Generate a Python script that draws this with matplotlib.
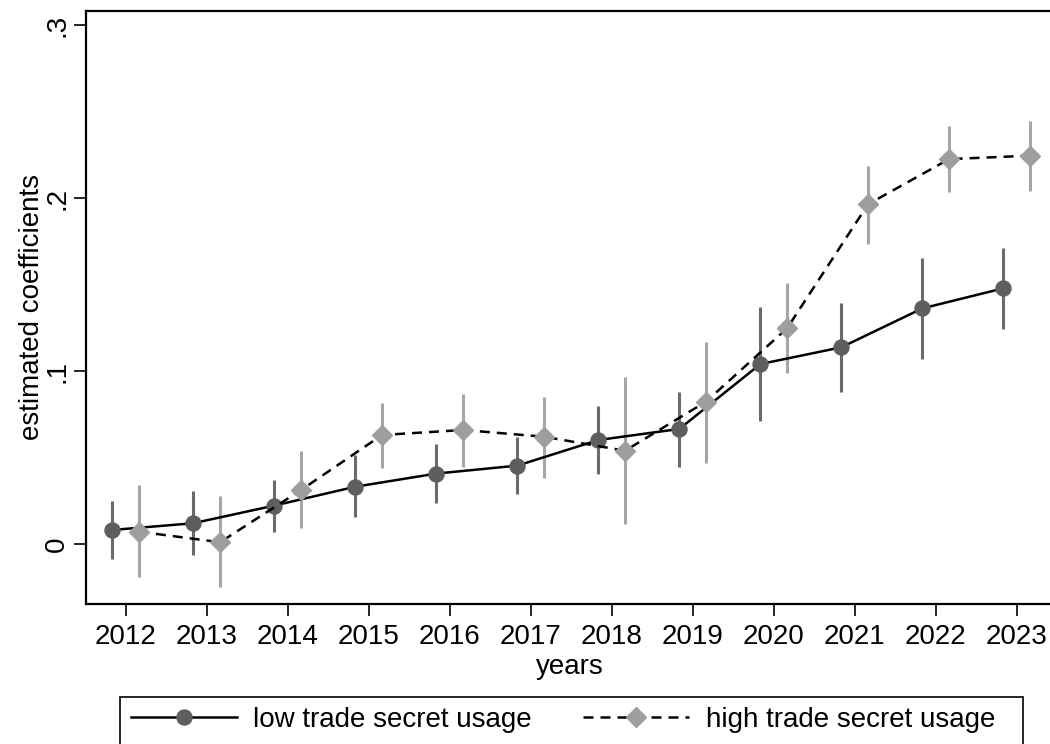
import numpy as np
import matplotlib
matplotlib.use("Agg")
import matplotlib.pyplot as plt
from matplotlib.patches import Rectangle

plt.rcParams["font.family"] = ["Liberation Sans", "DejaVu Sans"]

years = np.arange(2012, 2024)
tick_labels = [str(y) for y in years]

# low trade secret usage
low_coef = [0.0081, 0.0120, 0.0222, 0.0331, 0.0407, 0.0453, 0.0601, 0.0665, 0.1040, 0.1137, 0.1362, 0.1478]
low_lo = [-0.0089, -0.0064, 0.0071, 0.0156, 0.0239, 0.0287, 0.0403, 0.0447, 0.0711, 0.0877, 0.1069, 0.1243]
low_hi = [0.0249, 0.0305, 0.0370, 0.0514, 0.0576, 0.0620, 0.0798, 0.0879, 0.1368, 0.1395, 0.1651, 0.1709]

# high trade secret usage
high_coef = [0.0071, 0.0010, 0.0312, 0.0630, 0.0659, 0.0620, 0.0539, 0.0823, 0.1247, 0.1964, 0.2225, 0.2245]
high_lo = [-0.0193, -0.0250, 0.0091, 0.0437, 0.0447, 0.0380, 0.0114, 0.0470, 0.0990, 0.1734, 0.2033, 0.2042]
high_hi = [0.0339, 0.0277, 0.0536, 0.0817, 0.0867, 0.0851, 0.0967, 0.1170, 0.1507, 0.2187, 0.2416, 0.2445]

offset = 0.165
x_low = years - offset
x_high = years + offset

fig = plt.figure(figsize=(10.5, 7.44), dpi=100)
ax = fig.add_axes([86 / 1050, 140 / 744, 967 / 1050, 593.3 / 744])

# confidence intervals
ax.vlines(x_low, low_lo, low_hi, color="#6b6b6b", lw=2.2, zorder=2)
ax.vlines(x_high, high_lo, high_hi, color="#a6a6a6", lw=2.2, zorder=2)

l1, = ax.plot(x_low, low_coef, color="black", lw=1.8, marker="o", ms=10.8,
              mfc="#5e5e5e", mec="#5e5e5e", zorder=3, label="low trade secret usage")
l2, = ax.plot(x_high, high_coef, color="black", lw=1.8, marker="D", ms=10,
              mfc="#9e9e9e", mec="#9e9e9e", zorder=4, label="high trade secret usage")
l2.set_dashes((4, 2.8))

ax.set_xlim(2011.51, 2023.448)
ax.set_ylim(-0.0347, 0.3083)
ax.set_xticks(years)
ax.set_xticklabels(tick_labels)
ax.set_yticks([0, 0.1, 0.2, 0.3])
ax.set_yticklabels(["0", ".1", ".2", ".3"])

for s in ax.spines.values():
    s.set_linewidth(1.6)
ax.tick_params(axis="both", length=8.5, width=1.2, labelsize=20, pad=3)
ax.tick_params(axis="x", pad=6)
for t in ax.get_yticklabels():
    t.set_rotation(90)
    t.set_va("center")

ax.set_ylabel("estimated coefficients", fontsize=20)
ax.yaxis.set_label_coords(-0.042, 0.5)
ax.set_xlabel("years", fontsize=20)
ax.xaxis.set_label_coords(0.5, -0.085)

# legend box (runs off the bottom edge, as in the original)
fig.patches.append(Rectangle((120 / 1050, -0.05), 903 / 1050, 0.05 + 47 / 744,
                             transform=fig.transFigure, fill=False,
                             edgecolor="black", lw=1.2))
leg = fig.legend(handles=[l1, l2], loc="upper left", ncol=2, mode="expand",
                 bbox_to_anchor=(120 / 1050, -0.2, 886 / 1050, 0.2645),
                 fontsize=20, frameon=False, handlelength=3.8,
                 handletextpad=0.6, borderpad=0.4, borderaxespad=0)

fig.savefig("out.png", dpi=100)
